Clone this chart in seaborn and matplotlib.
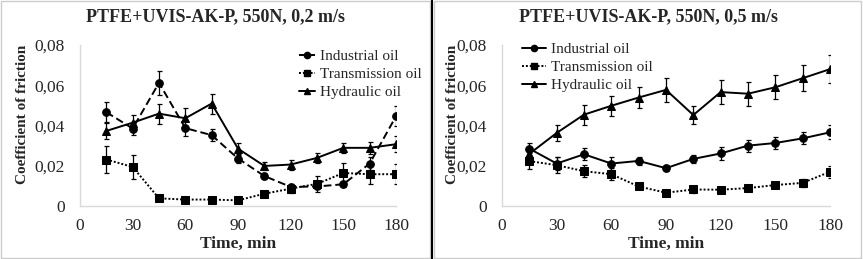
import numpy as np
import pandas as pd
import seaborn as sns
import matplotlib
matplotlib.use("Agg")
import matplotlib.pyplot as plt
from matplotlib.ticker import FuncFormatter
from matplotlib.patches import Rectangle
from matplotlib.lines import Line2D

time_min = [15, 30, 45, 60, 75, 90, 105, 120, 135, 150, 165, 180]
series_names = ["Industrial oil", "Transmission oil", "Hydraulic oil"]

# 550N, 0,2 m/s
ind_02 = [0.0466, 0.0385, 0.0612, 0.0387, 0.0352, 0.0236, 0.0149, 0.0095, 0.0097, 0.0108, 0.0211, 0.0446]
ind_02_err = [0.005, 0.003, 0.006, 0.004, 0.003, 0.002, 0.0015, 0.0015, 0.0015, 0.0015, 0.003, 0.005]
tra_02 = [0.0231, 0.0194, 0.0038, 0.0032, 0.0032, 0.0028, 0.0061, 0.0086, 0.0110, 0.0164, 0.0158, 0.0158]
tra_02_err = [0.0066, 0.006, 0.001, 0.001, 0.001, 0.001, 0.001, 0.002, 0.004, 0.005, 0.005, 0.005]
hyd_02 = [0.0373, 0.0414, 0.0459, 0.0436, 0.0509, 0.0285, 0.0199, 0.0206, 0.0239, 0.0289, 0.0289, 0.0307]
hyd_02_err = [0.004, 0.004, 0.005, 0.005, 0.005, 0.003, 0.002, 0.0025, 0.0025, 0.0025, 0.003, 0.004]

# 550N, 0,5 m/s
ind_05 = [0.0285, 0.0211, 0.0257, 0.0211, 0.0224, 0.0188, 0.0234, 0.0261, 0.0300, 0.0313, 0.0336, 0.0366]
ind_05_err = [0.003, 0.003, 0.003, 0.003, 0.002, 0.0015, 0.002, 0.003, 0.003, 0.003, 0.003, 0.0035]
tra_05 = [0.0223, 0.0203, 0.0173, 0.0158, 0.0097, 0.0066, 0.0082, 0.0081, 0.0089, 0.0104, 0.0115, 0.0170]
tra_05_err = [0.004, 0.004, 0.003, 0.003, 0.0015, 0.001, 0.0015, 0.0015, 0.0015, 0.0015, 0.002, 0.003]
hyd_05 = [0.0259, 0.0363, 0.0454, 0.0498, 0.0539, 0.0577, 0.0452, 0.0566, 0.0558, 0.0590, 0.0635, 0.0680]
hyd_05_err = [0.003, 0.004, 0.005, 0.005, 0.005, 0.006, 0.0045, 0.006, 0.006, 0.006, 0.0065, 0.007]

titles = ["PTFE+UVIS-AK-P, 550N, 0,2 m/s", "PTFE+UVIS-AK-P, 550N, 0,5 m/s"]

sns.set_theme(style="white")
plt.rcParams["font.family"] = ["Liberation Serif", "DejaVu Serif"]

W, H = 863, 259
fig = plt.figure(figsize=(W / 100, H / 100), dpi=100)


def fig_axes(x0, x1, y_top, y_bot):
    return fig.add_axes([x0 / W, 1 - y_bot / H, (x1 - x0) / W, (y_bot - y_top) / H])


ax1 = fig_axes(80, 396, 45, 206)
ax2 = fig_axes(502, 830, 45, 206)

panels = [
    (ax1, [(ind_02, ind_02_err, (4, 2), "o"), (tra_02, tra_02_err, (1, 1), "s"), (hyd_02, hyd_02_err, "", "^")]),
    (ax2, [(ind_05, ind_05_err, "", "o"), (tra_05, tra_05_err, (1, 1), "s"), (hyd_05, hyd_05_err, "", "^")]),
]

all_handles = []
for ax, series in panels:
    handles = []
    for name, (vals, err, dash, mk) in zip(series_names, series):
        df = pd.DataFrame({"t": time_min, "cof": vals})
        sns.lineplot(data=df, x="t", y="cof", ax=ax, color="black", linewidth=1.4,
                     marker=mk, markersize=5.5, markeredgecolor="black")
        ln = ax.lines[-1]
        if dash:
            ln.set_dashes(dash)
        ax.errorbar(time_min, vals, yerr=err, fmt="none", ecolor="black",
                    elinewidth=0.9, capsize=1.8, capthick=0.9)
        h = Line2D([], [], color="black", linewidth=1.4, marker=mk, markersize=4.5)
        if dash:
            h.set_dashes(dash)
        handles.append(h)
    all_handles.append(handles)
    ax.set_xlim(0, 180)
    ax.set_ylim(0, 0.08)
    ax.set_xticks(range(0, 181, 30))
    ax.set_yticks([0, 0.02, 0.04, 0.06, 0.08])
    ax.yaxis.set_major_formatter(FuncFormatter(lambda v, p: "0" if v == 0 else f"{v:.2f}".replace(".", ",")))
    ax.tick_params(axis="both", labelsize=12.5, length=0)
    ax.tick_params(axis="x", pad=9)
    ax.tick_params(axis="y", pad=11)
    for s in ["top", "right"]:
        ax.spines[s].set_visible(False)
    for s in ["left", "bottom"]:
        ax.spines[s].set_color("#d9d9d9")
        ax.spines[s].set_linewidth(1.0)
    ax.set_xlabel("Time, min", fontsize=12.5, fontweight="bold", labelpad=1)
    ax.set_ylabel("Coefficient of friction", fontsize=11, fontweight="bold")

ax1.yaxis.set_label_coords(-0.161, 0.57)
ax2.yaxis.set_label_coords(-0.131, 0.57)

legend_kw = dict(frameon=False, fontsize=11, loc="upper left", bbox_transform=fig.transFigure,
                 handletextpad=0.35, labelspacing=0.27, borderpad=0)
ax1.legend(all_handles[0], series_names, bbox_to_anchor=(291 / W, 1 - 42 / H),
           handlelength=1.05, **legend_kw)
ax2.legend(all_handles[1], series_names, bbox_to_anchor=(514 / W, 1 - 35 / H),
           handlelength=1.6, **legend_kw)

fig.text(215 / W, 1 - 17 / H, titles[0], ha="center", va="center", fontsize=13, fontweight="bold")
fig.text(648 / W, 1 - 17 / H, titles[1], ha="center", va="center", fontsize=13, fontweight="bold")

# panel frames
fig.patches.append(Rectangle((1 / W, 1 / H), 429 / W, 257 / H, transform=fig.transFigure,
                             fill=False, edgecolor="#cccccc", linewidth=1))
fig.patches.append(Rectangle((434 / W, 1 / H), 427 / W, 257 / H, transform=fig.transFigure,
                             fill=False, edgecolor="#cccccc", linewidth=1))
fig.lines.append(Line2D([432 / W, 432 / W], [0, 1], transform=fig.transFigure, color="black", linewidth=1.5))

fig.savefig("out.png", dpi=100)
